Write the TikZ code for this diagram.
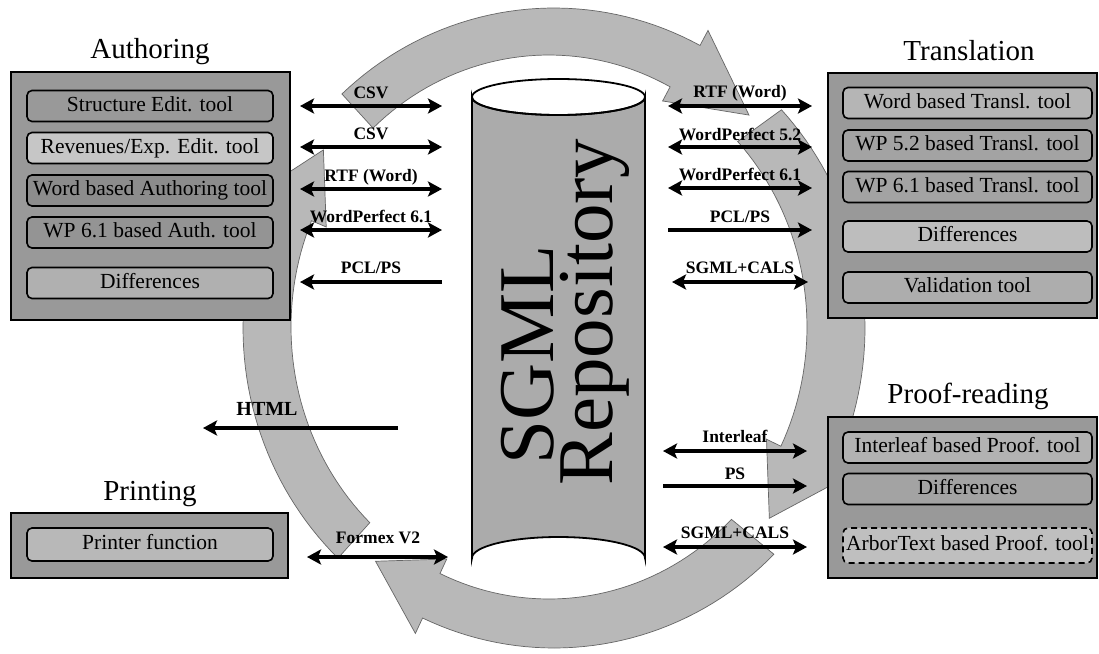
\documentclass[tikz,border=0pt]{standalone}
\usepackage{fontspec}
\setmainfont{Liberation Serif}
\usetikzlibrary{arrows.meta}
\definecolor{panelgray}{gray}{0.60}
\definecolor{ringgray}{gray}{0.72}
\definecolor{ringedge}{gray}{0.40}
\definecolor{cylgray}{gray}{0.67}
\newcommand\ringarrow[3]{%
\filldraw[ring] plot[domain=#1:#2,samples=40] ({554+311*cos(\x)},{328+320*sin(\x)})
 -- ({554+328*cos(#2)},{328+337*sin(#2)})
 -- ({551+285*cos(#3)},{328+296*sin(#3)})
 -- ({549+242*cos(#2)},{327+256*sin(#2)})
 -- plot[domain=#2:#1,samples=40] ({549+258*cos(\x)},{327+272*sin(\x)}) -- cycle;}
\begin{document}
\begin{tikzpicture}[x=1pt,y=-1pt,
  >={Stealth[length=14pt,width=15pt,inset=3pt]},
  ring/.style={fill=ringgray,draw=ringedge,line width=0.7pt},
  panel/.style={draw=black,line width=1.6pt,fill=panelgray,inner sep=0pt},
  tool/.style={draw=black,line width=1.6pt,rounded corners=5pt,inner sep=0pt,
    minimum width=246pt,minimum height=31pt,text height=14.5pt,text depth=4.5pt,
    font=\fontsize{21.5pt}{24pt}\selectfont},
  title/.style={anchor=base,inner sep=0pt,font=\fontsize{29pt}{32pt}\selectfont},
  lbl/.style={anchor=base,inner sep=0pt,font=\fontsize{17.5pt}{20pt}\selectfont\bfseries},
  conn/.style={line width=3.5pt},
  dbl/.style={conn,<->},
  fwd/.style={conn,->},
  big/.style={rotate=90,anchor=base,inner sep=0pt,font=\fontsize{79pt}{79pt}\selectfont}]
\useasboundingbox (0,0) rectangle (1099,653);
\fill[white] (0,0) rectangle (1099,653);

% circular cycle of four arrows
\ringarrow{134}{203}{217}
\ringarrow{45}{115}{128}
\ringarrow{-43}{26}{40}
\ringarrow{-133}{-62}{-46}

% Authoring
\node[title] (tauth) at (150,58) {Authoring};
\node[panel,minimum width=279pt,minimum height=248pt] (pauth) at (150.5,196) {};
\node[tool,fill=black!0!gray!80] (a1) at (150,106) {Structure Edit. tool};
\node[tool,fill=white!55!gray] (a2) at (150,148) {Revenues/Exp. Edit. tool};
\node[tool,fill=white!10!gray] (a3) at (150,190.5) {Word based Authoring tool};
\node[tool,fill=white!16!gray] (a4) at (150,232.5) {WP 6.1 based Auth. tool};
\node[tool,fill=white!38!gray] (a5) at (150,283) {Differences};

% Translation
\node[title] (ttrans) at (969,60) {Translation};
\node[panel,minimum width=269pt,minimum height=245pt] (ptrans) at (962.5,195.5) {};
\node[tool,minimum width=249pt,fill=white!42!gray] (t1) at (967.5,103) {Word based Transl. tool};
\node[tool,minimum width=249pt,fill=white!28!gray] (t2) at (967.5,145.5) {WP 5.2 based Transl. tool};
\node[tool,minimum width=249pt,fill=white!28!gray] (t3) at (967.5,187) {WP 6.1 based Transl. tool};
\node[tool,minimum width=249pt,fill=white!48!gray] (t4) at (967.5,236.5) {Differences};
\node[tool,minimum width=249pt,fill=white!36!gray] (t5) at (967.5,287.5) {Validation tool};

% Proof-reading
\node[title] (tproof) at (968,403) {Proof-reading};
\node[panel,minimum width=269pt,minimum height=161pt] (pproof) at (962.5,497.5) {};
\node[tool,minimum width=249pt,fill=white!40!gray] (r1) at (967.5,447.5) {Interleaf based Proof. tool};
\node[tool,minimum width=249pt,fill=white!28!gray] (r2) at (967.5,489) {Differences};
\node[tool,minimum width=249pt,minimum height=35pt,fill=white!50!gray,dashed,dash pattern=on 6pt off 4pt] (r3) at (967.5,545.5) {ArborText based Proof. tool};

% Printing
\node[title] (tprint) at (150,500) {Printing};
\node[panel,minimum width=277pt,minimum height=65pt] (pprint) at (149.5,545.5) {};
\node[tool,minimum height=33pt,fill=white!44!gray] (p1) at (150,544.5) {Printer function};

% SGML repository cylinder
\filldraw[fill=cylgray,draw=black,line width=1.8pt]
  (472,97) -- (472,558) arc[start angle=180,end angle=360,x radius=86.5,y radius=21]
  -- (645,97) arc[start angle=0,end angle=180,x radius=86.5,y radius=18] -- cycle;
\draw[black,line width=1.8pt] (558.5,97) ellipse[x radius=86.5,y radius=18];
\node[big] (sgml) at (553,355) {SGML};
\node[big] (repo) at (612,312) {Repository};

% left connectors
\coordinate (l1w) at (300,106); \coordinate (l1e) at (442,106);
\coordinate (l2w) at (300,147); \coordinate (l2e) at (442,147);
\coordinate (l3w) at (300,189); \coordinate (l3e) at (442,189);
\coordinate (l4w) at (300,230); \coordinate (l4e) at (442,230);
\coordinate (l5w) at (300,282); \coordinate (l5e) at (442,282);
\draw[dbl] (l1w) -- (l1e);
\draw[dbl] (l2w) -- (l2e);
\draw[dbl] (l3w) -- (l3e);
\draw[dbl] (l4w) -- (l4e);
\draw[fwd] (l5e) -- (l5w);
\node[lbl] (ll1) at (371,98) {CSV};
\node[lbl] (ll2) at (371,139) {CSV};
\node[lbl] (ll3) at (371,181) {RTF (Word)};
\node[lbl] (ll4) at (371,222) {WordPerfect 6.1};
\node[lbl] (ll5) at (371,273) {PCL/PS};

% right connectors
\coordinate (r1w) at (668,106); \coordinate (r1e) at (812,106);
\coordinate (r2w) at (668,147); \coordinate (r2e) at (812,147);
\coordinate (r3w) at (668,188); \coordinate (r3e) at (812,188);
\coordinate (r4w) at (668,230); \coordinate (r4e) at (812,230);
\coordinate (r5w) at (672,282); \coordinate (r5e) at (808,282);
\draw[dbl] (r1w) -- (r1e);
\draw[dbl] (r2w) -- (r2e);
\draw[dbl] (r3w) -- (r3e);
\draw[fwd] (r4w) -- (r4e);
\draw[dbl] (r5w) -- (r5e);
\node[lbl] (rl1) at (740,97) {RTF (Word)};
\node[lbl] (rl2) at (740,140) {WordPerfect 5.2};
\node[lbl] (rl3) at (740,180) {WordPerfect 6.1};
\node[lbl] (rl4) at (740,222) {PCL/PS};
\node[lbl] (rl5) at (740,273) {SGML+CALS};

% lower right connectors
\coordinate (s1w) at (663,451); \coordinate (s1e) at (807,451);
\coordinate (s2w) at (663,486); \coordinate (s2e) at (807,486);
\coordinate (s3w) at (663,547); \coordinate (s3e) at (807,547);
\draw[dbl] (s1w) -- (s1e);
\draw[fwd] (s2w) -- (s2e);
\draw[dbl] (s3w) -- (s3e);
\node[lbl] (sl1) at (735,442) {Interleaf};
\node[lbl] (sl2) at (735,479) {PS};
\node[lbl] (sl3) at (735,538) {SGML+CALS};

% HTML and Formex
\coordinate (hE) at (398,428); \coordinate (hW) at (203,428);
\draw[fwd] (hE) -- (hW);
\node[lbl,font=\fontsize{20pt}{22pt}\selectfont\bfseries] (hl) at (267,415) {HTML};
\coordinate (fW) at (307,557); \coordinate (fE) at (448,557);
\draw[dbl] (fW) -- (fE);
\node[lbl] (fl) at (378,543) {Formex V2};
\end{tikzpicture}
\end{document}
